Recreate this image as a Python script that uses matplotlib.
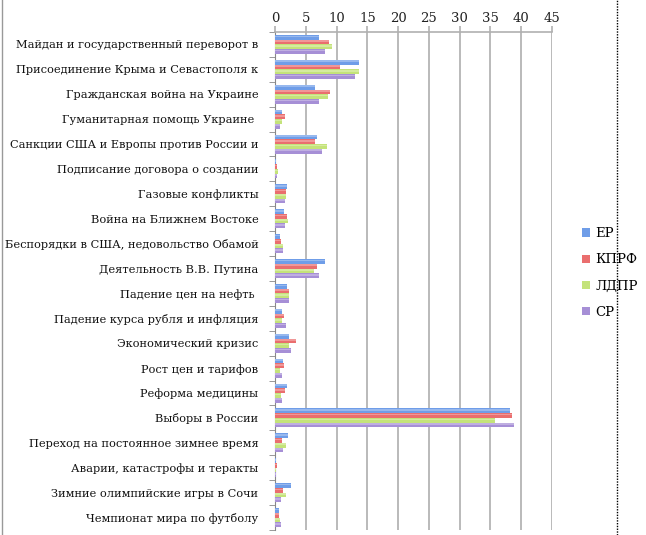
import matplotlib.pyplot as plt
import numpy as np
from matplotlib.lines import Line2D
from matplotlib.colors import to_rgb

# categories (top to bottom)
categories = [
    'Майдан и государственный переворот в',
    'Присоединение Крыма и Севастополя к',
    'Гражданская война на Украине',
    'Гуманитарная помощь Украине ',
    'Санкции США и Европы против России и',
    'Подписание договора о создании',
    'Газовые конфликты',
    'Война на Ближнем Востоке',
    'Беспорядки в США, недовольство Обамой',
    'Деятельность В.В. Путина',
    'Падение цен на нефть ',
    'Падение курса рубля и инфляция',
    'Экономический кризис',
    'Рост цен и тарифов',
    'Реформа медицины',
    'Выборы в России',
    'Переход на постоянное зимнее время',
    'Аварии, катастрофы и теракты',
    'Зимние олимпийские игры в Сочи',
    'Чемпионат мира по футболу',
]

er = [7.1, 13.6, 6.5, 1.2, 6.9, 0.1, 1.9, 1.4, 0.85, 8.1,
      1.9, 1.1, 2.3, 1.3, 1.9, 38.2, 2.15, 0.2, 2.6, 0.65]
kprf = [8.8, 10.5, 9.0, 1.6, 6.5, 0.3, 1.75, 1.9, 1.0, 6.9,
        2.3, 1.45, 3.4, 1.4, 1.6, 38.5, 1.2, 0.25, 1.25, 0.6]
ldpr = [9.2, 13.7, 8.6, 1.15, 8.5, 0.5, 1.75, 2.05, 1.3, 6.3,
        2.2, 1.15, 2.3, 0.8, 0.9, 35.75, 1.75, 0.2, 1.8, 0.8]
sr = [8.1, 13.0, 7.15, 0.75, 7.6, 0.4, 1.6, 1.6, 1.3, 7.15,
      2.3, 1.75, 2.65, 1.2, 1.1, 38.9, 1.3, 0.15, 1.0, 0.9]

series_names = ['ЕР', 'КПРФ', 'ЛДПР', 'СР']
series_values = [er, kprf, ldpr, sr]
colors = ['#6f9de8', '#ea6e6e', '#c4e37a', '#a68fd6']

plt.rcParams['font.family'] = ['DejaVu Serif']

fig = plt.figure(figsize=(6.46, 5.35), dpi=100)
ax = fig.add_axes([275/646, 1 - 530/535, (552-275)/646, (530-32)/535])

n = len(categories)
y = np.arange(n)
bar_h = 0.19

def lighten(c, amt):
    r, g, b = to_rgb(c)
    return (r + (1-r)*amt, g + (1-g)*amt, b + (1-b)*amt)

for i, (name, vals) in enumerate(zip(series_names, series_values)):
    offs = y - 1.5*bar_h + i*bar_h
    ax.barh(offs, vals, height=bar_h, color=colors[i], label=name,
            edgecolor='none', zorder=3)
    # soft highlight on the upper part of each bar (gradient look)
    ax.barh(offs - bar_h*0.2, vals, height=bar_h*0.35,
            color=lighten(colors[i], 0.28), edgecolor='none', zorder=4)

ax.set_xlim(0, 45)
ax.set_ylim(n - 0.5, -0.5)
ax.xaxis.tick_top()
ax.set_xticks(np.arange(0, 46, 5))
ax.tick_params(axis='x', length=4, color='#b0b0b0', width=1.2,
               labelsize=9.5, pad=1, labelcolor='#222222')
ax.set_yticks(y)
ax.set_yticklabels(categories, fontsize=8.2, color='#111111')
ax.set_yticks(np.arange(-0.5, n, 1), minor=True)
ax.tick_params(axis='y', which='major', length=0, pad=12)
ax.tick_params(axis='y', which='minor', length=4, color='#888888')
ax.grid(axis='x', color='#b4b4b4', linewidth=1.3, zorder=0)

for s in ['right', 'bottom']:
    ax.spines[s].set_visible(False)
ax.spines['top'].set_color('#b0b0b0')
ax.spines['top'].set_linewidth(1.2)
ax.spines['left'].set_color('#888888')

# legend built from the first (colored) bars only
handles, labels = ax.get_legend_handles_labels()
fig.legend(handles[:4], labels[:4], loc='center left',
           bbox_to_anchor=(577/646, 1 - 273/535), frameon=False,
           fontsize=9.5, handlelength=0.6, handleheight=0.6,
           labelspacing=1.0, handletextpad=0.4, borderaxespad=0)

# frame lines of the original picture
fig.add_artist(Line2D([2/646, 2/646], [0, 1], color='#999999', lw=1))
fig.add_artist(Line2D([617/646, 617/646], [0, 1], color='black', lw=1,
                      linestyle=(0, (1, 1))))

fig.savefig('out.png', dpi=100)
